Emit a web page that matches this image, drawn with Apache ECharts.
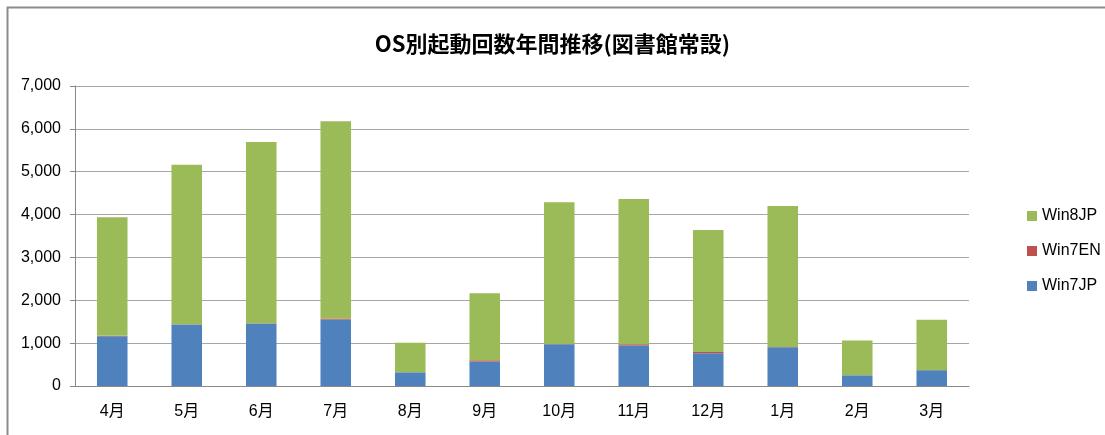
<!DOCTYPE html>
<html>
<head>
<meta charset="utf-8">
<style>
  html, body { margin: 0; padding: 0; background: #fff; }
  #chart { width: 1105px; height: 435px; }
</style>
<script src="https://cdn.jsdelivr.net/npm/echarts@6/dist/echarts.min.js"></script>
</head>
<body>
<div id="chart"></div>
<script>
// データ
const months = ['4月', '5月', '6月', '7月', '8月', '9月', '10月', '11月', '12月', '1月', '2月', '3月'];
const win7jp = [1160, 1435, 1460, 1550, 320, 570, 975, 945, 765, 905, 250, 370];
const win7en = [10, 5, 5, 25, 0, 30, 5, 30, 30, 5, 0, 0];
const win8jp = [2770, 3725, 4230, 4605, 690, 1565, 3305, 3390, 2845, 3290, 810, 1175];
const yTicks = [0, 1000, 2000, 3000, 4000, 5000, 6000, 7000];

const chart = echarts.init(document.getElementById('chart'));

const font = '"Liberation Sans", "Noto Sans CJK JP", sans-serif';

const option = {
  animation: false,
  backgroundColor: '#fff',
  title: {
    text: 'OS別起動回数年間推移(図書館常設)',
    left: 'center',
    top: 28,
    textStyle: {
      fontFamily: '"Noto Sans CJK JP", sans-serif',
      fontSize: 22,
      fontWeight: 'bold',
      color: '#000'
    }
  },
  legend: {
    orient: 'vertical',
    left: 1022,
    top: 203,
    itemWidth: 10,
    itemHeight: 10,
    itemGap: 19,
    icon: 'rect',
    data: ['Win8JP', 'Win7EN', 'Win7JP'],
    textStyle: { fontFamily: font, fontSize: 16, color: '#000' }
  },
  grid: { left: 75, right: 136, top: 86, bottom: 49 },
  xAxis: {
    type: 'category',
    data: months,
    axisLine: { lineStyle: { color: '#888' } },
    axisTick: { length: 6, lineStyle: { color: '#888' } },
    axisLabel: { fontFamily: font, fontSize: 16, color: '#000', margin: 18 }
  },
  yAxis: {
    type: 'value',
    min: yTicks[0],
    max: yTicks[yTicks.length - 1],
    interval: 1000,
    axisLine: { show: true, lineStyle: { color: '#888' } },
    axisTick: { show: true, length: 5, lineStyle: { color: '#888' } },
    axisLabel: {
      fontFamily: font, fontSize: 16, color: '#000', margin: 14,
      formatter: v => v.toLocaleString('en-US')
    },
    splitLine: { lineStyle: { color: '#a6a6a6', width: 1 } }
  },
  series: [
    { name: 'Win7JP', type: 'bar', stack: 'os', data: win7jp, barWidth: '41%',
      itemStyle: { color: '#4F81BD' } },
    { name: 'Win7EN', type: 'bar', stack: 'os', data: win7en,
      itemStyle: { color: '#C0504D' } },
    { name: 'Win8JP', type: 'bar', stack: 'os', data: win8jp,
      itemStyle: { color: '#9BBB59' } }
  ],
  graphic: [
    { type: 'rect', shape: { x: 7.5, y: 7.5, width: 1120, height: 450 },
      style: { fill: null, stroke: '#8c8c8c', lineWidth: 2 }, silent: true }
  ]
};

chart.setOption(option);
</script>
</body>
</html>
